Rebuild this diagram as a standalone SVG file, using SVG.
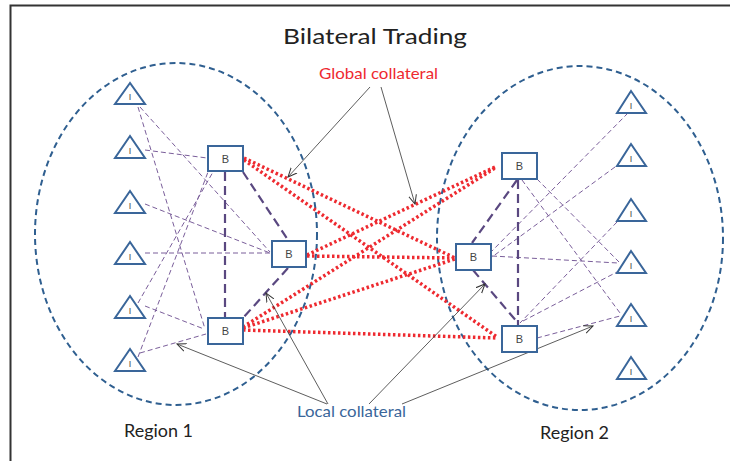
<svg xmlns="http://www.w3.org/2000/svg" width="730" height="461" viewBox="0 0 730 461">
<defs>
<style>
.frame{fill:none;stroke:#333;stroke-width:2}
.region{fill:none;stroke:#2f5f90;stroke-width:2;stroke-dasharray:6 4}
.tri{fill:#fff;stroke:#3a669a;stroke-width:2;stroke-linejoin:miter}
.box{fill:#fff;stroke:#3a669a;stroke-width:2}
.lbl{font-family:"Liberation Sans",Arial,sans-serif;fill:#444;text-anchor:middle}
.thin{stroke:#7a5e9a;stroke-width:1;stroke-dasharray:5 3;fill:none}
.thick{stroke:#5a4880;stroke-width:2.2;stroke-dasharray:9 5;fill:none}
.red{stroke:#ee2a30;stroke-width:3.5;stroke-dasharray:2.5 2.5;fill:none}
.arr{stroke:#333;stroke-width:0.8;fill:none;marker-end:url(#oa)}
.txt{font-family:Lato,"Open Sans","Liberation Sans",sans-serif}
</style>
<marker id="oa" viewBox="0 0 10 10" refX="9" refY="5" markerWidth="10" markerHeight="10" markerUnits="userSpaceOnUse" orient="auto">
<path d="M0,1 L9,5 L0,9" fill="none" stroke="#333" stroke-width="1"/>
</marker>
</defs>
<rect width="730" height="461" fill="#fff"/>
<path class="frame" d="M10.5,461 V5.5 H730"/>
<text class="txt" x="375" y="44" font-size="22" fill="#222" text-anchor="middle" textLength="184" lengthAdjust="spacingAndGlyphs">Bilateral Trading</text>
<ellipse class="region" cx="176" cy="234" rx="141" ry="171"/>
<ellipse class="region" cx="580" cy="238" rx="143" ry="172"/>
<g id="connectors">
<g id="local-left">
<line class="thin" x1="140" y1="107" x2="270" y2="252"/>
<line class="thin" x1="138" y1="107" x2="205" y2="329"/>
<line class="thin" x1="145" y1="150" x2="207" y2="158"/>
<line class="thin" x1="145" y1="204" x2="270" y2="253"/>
<line class="thin" x1="145" y1="253" x2="272" y2="253"/>
<line class="thin" x1="138" y1="303" x2="213" y2="172"/>
<line class="thin" x1="145" y1="306" x2="204" y2="329"/>
<line class="thin" x1="138" y1="357" x2="208" y2="172"/>
<line class="thin" x1="140" y1="353" x2="206" y2="334"/>
<line class="thick" x1="225" y1="172" x2="225" y2="318"/>
<line class="thick" x1="243" y1="172" x2="288" y2="240"/>
<line class="thick" x1="288" y1="268" x2="243" y2="318"/>
</g>
<g id="local-right">
<line class="thin" x1="628" y1="113" x2="491" y2="252"/>
<line class="thin" x1="615" y1="167" x2="492" y2="257"/>
<line class="thin" x1="617" y1="222" x2="520" y2="323"/>
<line class="thin" x1="522" y1="180" x2="620" y2="313"/>
<line class="thin" x1="537" y1="179" x2="619" y2="262"/>
<line class="thin" x1="492" y1="256" x2="618" y2="263"/>
<line class="thin" x1="523" y1="321" x2="617" y2="272"/>
<line class="thin" x1="537" y1="338" x2="620" y2="316"/>
<line class="thick" x1="518" y1="180" x2="518" y2="326"/>
<line class="thick" x1="517" y1="180" x2="472" y2="243"/>
<line class="thick" x1="473" y1="270" x2="518" y2="323"/>
</g>
<g id="global">
<line class="red" x1="244" y1="158" x2="455" y2="258"/>
<line class="red" x1="244" y1="160" x2="497" y2="337"/>
<line class="red" x1="307" y1="255" x2="495" y2="167"/>
<line class="red" x1="307" y1="256" x2="455" y2="258"/>
<line class="red" x1="243" y1="327" x2="495" y2="168"/>
<line class="red" x1="243" y1="328" x2="455" y2="259"/>
<line class="red" x1="243" y1="330" x2="497" y2="338"/>
</g>
<g id="callouts">
<line class="arr" x1="370" y1="87" x2="288" y2="177"/>
<line class="arr" x1="381" y1="87" x2="415" y2="204"/>
<line class="arr" x1="327" y1="404" x2="177" y2="344"/>
<line class="arr" x1="328" y1="404" x2="266" y2="293"/>
<line class="arr" x1="369" y1="404" x2="485" y2="284"/>
<line class="arr" x1="402" y1="404" x2="593" y2="326"/>
</g>
</g>
<g id="I-L1"><polygon class="tri" points="130,83 115,104 145,104"/><text class="lbl" x="130" y="100" font-size="9">I</text></g>
<g id="I-L2"><polygon class="tri" points="130,136 115,158 145,158"/><text class="lbl" x="130" y="154" font-size="9">I</text></g>
<g id="I-L3"><polygon class="tri" points="130,191 115,213 145,213"/><text class="lbl" x="130" y="209" font-size="9">I</text></g>
<g id="I-L4"><polygon class="tri" points="130,242 115,264 145,264"/><text class="lbl" x="130" y="260" font-size="9">I</text></g>
<g id="I-L5"><polygon class="tri" points="130,296 115,318 145,318"/><text class="lbl" x="130" y="314" font-size="9">I</text></g>
<g id="I-L6"><polygon class="tri" points="130,349 115,371 145,371"/><text class="lbl" x="130" y="367" font-size="9">I</text></g>
<g id="I-R1"><polygon class="tri" points="631,91 617,113 646,113"/><text class="lbl" x="631" y="109" font-size="9">I</text></g>
<g id="I-R2"><polygon class="tri" points="631,144 617,166 646,166"/><text class="lbl" x="631" y="162" font-size="9">I</text></g>
<g id="I-R3"><polygon class="tri" points="631,199 617,221 646,221"/><text class="lbl" x="631" y="217" font-size="9">I</text></g>
<g id="I-R4"><polygon class="tri" points="631,251 617,273 646,273"/><text class="lbl" x="631" y="269" font-size="9">I</text></g>
<g id="I-R5"><polygon class="tri" points="631,304 617,326 646,326"/><text class="lbl" x="631" y="322" font-size="9">I</text></g>
<g id="I-R6"><polygon class="tri" points="631,357 617,379 646,379"/><text class="lbl" x="631" y="375" font-size="9">I</text></g>
<g id="B-L1"><rect class="box" x="208" y="146" width="35" height="25"/><text class="lbl" x="225.5" y="163" font-size="11">B</text></g>
<g id="B-L2"><rect class="box" x="272" y="241" width="34" height="26"/><text class="lbl" x="289" y="258" font-size="11">B</text></g>
<g id="B-L3"><rect class="box" x="208" y="318" width="35" height="26"/><text class="lbl" x="225.5" y="335" font-size="11">B</text></g>
<g id="B-R1"><rect class="box" x="502" y="153" width="35" height="26"/><text class="lbl" x="519.5" y="170" font-size="11">B</text></g>
<g id="B-R2"><rect class="box" x="456" y="244" width="35" height="26"/><text class="lbl" x="473.5" y="261" font-size="11">B</text></g>
<g id="B-R3"><rect class="box" x="502" y="326" width="35" height="26"/><text class="lbl" x="519.5" y="343" font-size="11">B</text></g>
<text class="txt" x="378.5" y="79" font-size="15" fill="#ee2a30" text-anchor="middle" textLength="119" lengthAdjust="spacingAndGlyphs">Global collateral</text>
<text class="txt" x="351.5" y="417" font-size="15" fill="#3a669a" text-anchor="middle" textLength="109" lengthAdjust="spacingAndGlyphs">Local collateral</text>
<text class="txt" x="158.5" y="437" font-size="16.5" fill="#222" text-anchor="middle" textLength="69" lengthAdjust="spacingAndGlyphs">Region 1</text>
<text class="txt" x="574.5" y="439" font-size="16.5" fill="#222" text-anchor="middle" textLength="69" lengthAdjust="spacingAndGlyphs">Region 2</text>
</svg>
